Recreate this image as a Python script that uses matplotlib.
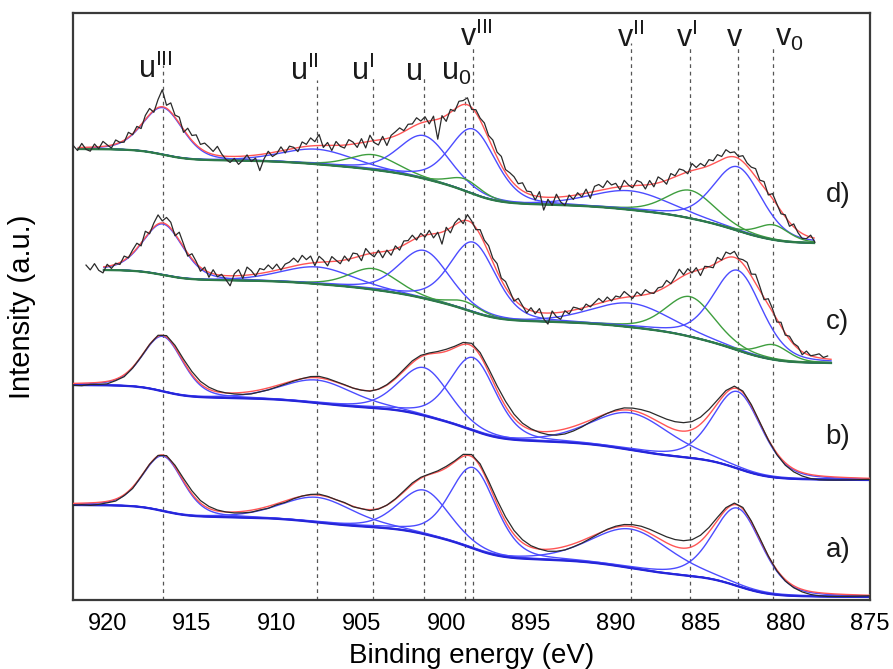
import math
import matplotlib.pyplot as plt
import numpy as np

plt.rcParams["font.family"] = ["Liberation Sans", "DejaVu Sans"]
plt.rcParams["mathtext.fontset"] = "custom"
plt.rcParams["mathtext.rm"] = "Liberation Sans"

# Ce 3d components: labels, binding energy (eV), FWHM (eV), Ce3+ flag
peak_labels = [r"u$^{\rm III}$", r"u$^{\rm II}$", r"u$^{\rm I}$", "u", r"u$_{\rm 0}$",
               r"v$^{\rm III}$", r"v$^{\rm II}$", r"v$^{\rm I}$", "v", r"v$_{\rm 0}$"]
peak_pos = [916.7, 907.6, 904.3, 901.3, 898.9, 898.4, 889.1, 885.6, 882.8, 880.7]
peak_fwhm = [2.8, 5.0, 3.3, 3.5, 2.2, 3.2, 5.5, 3.4, 3.4, 2.2]
ce3 = [0, 0, 1, 0, 1, 0, 0, 1, 0, 1]

# label anchor (left edge, baseline) and top of the dashed guide lines
label_x = [918.2, 909.2, 905.6, 902.4, 900.3, 899.2, 889.9, 886.45, 883.45, 880.6]
label_y = [522, 520, 520, 520, 520, 554, 553, 553, 554, 554]
line_top = [535, 520, 525, 525, 503, 553, 557, 553, 552, 553]

# component heights for each spectrum (0 = not used)
height_a = [55, 25, 0, 44, 0, 81, 39, 0, 78, 0]
height_b = [55, 23, 0, 48, 0, 73, 37, 0, 77, 0]
height_c = [51, 17, 21, 48, 8, 70, 24, 40, 80, 15]
height_d = [47, 15, 15, 43, 12, 65, 19, 28, 64, 15]

# Shirley background end levels (high BE, low BE) and fit range
bg_a, fit_a = (95, 3), (922.0, 875.0)
bg_b, fit_b = (215, 120), (922.0, 875.0)
bg_c, fit_c = (330, 237), (920.2, 877.3)
bg_d, fit_d = (451, 357), (921.7, 878.3)

# raw data = fit envelope + residual; (start BE, step)
grid_a = (922.0, 0.5)
grid_b = (922.0, 0.5)
grid_c = (921.25, 0.25)
grid_d = (922.0, 0.25)

res_a = [-2, -1.5, -2.5, -2, -1.5, -2, -1, -1.5, -0.5,
         0, 0.5, 1, 1.5, 2.5, 3, 2.5, 2,
         1, 0, -1, -1.5, -2, -1.5, -2, -1, -1.5, -0.5,
         0, 0.5, 1, 0.5, 0, 0.5, -0.5, 0, -1, -0.5, 0, 0.5,
         1, 1.5, 1, 0.5, 1, 1.5, 1, 2,
         2, 2.5, 3, 4, 4.5, 4, 3, 1.5,
         0, -2, -3, -3.5, -3, -2.5, -1.5, -0.5,
         0.5, 1, 1.5, 2,
         3, 4, 5, 6, 7, 7.5, 7, 6, 4.5, 3,
         2, 1.5, 1.5, 1, 1, 0, -1, -1.5,
         -2, -2.5, -3, -3, -3, -2.5, -2, -1.5, -1, -0.5]
res_b = [-2, -2.5, -1.5, -2, -2.5, -1.5, -2, -1, -0.5,
         0, 1, 1.5, 2, 2.5, 3, 2.5, 2,
         1, 0, -1, -2, -2.5, -2, -2, -1.5, -1, -0.5,
         0, 1, 1.5, 1, 0.5, 0.5, 0, 0, -0.5, 0, 0.5, 1,
         1.5, 2, 1.5, 1, 1.5, 2, 1.5, 2,
         2.5, 3, 3.5, 4.5, 5, 4, 2.5, 1,
         -1, -3, -4.5, -5, -4.5, -3.5, -2, -1,
         0, 1, 2, 2.5,
         3.5, 5, 6, 7, 8, 8.5, 8, 7, 5.5, 3.5,
         2.5, 2, 1.5, 1, 0.5, -0.5, -1.5, -2.5,
         -3, -3.5, -4, -4, -3.5, -3, -2.5, -2, -1.5, -1]
res_c = [3, -2, 4, -3, -6, 2, -3, 1, -2, 4, -1, 3, 5, -3, 6, -2,
         4, 9, 2, 7, 6, -2, 8, 3, -3, 5, 2, -4, 3, -5, 4, -2,
         1, -4, -10, 2, 6, -3, 8, 4, -2, 5, 3, 7, 2, 6, -1, 4,
         5, 8, 3, 9, 4, 7, -3, 6, 2, -4, 5, 1, -3, 4, -2, 5,
         3, -5, 6, 0, -4, 2, -6, 1, -5, 3, -3, 4, 2, 5, -2, 3,
         -2, 4, -4, 1, -12, 3, -5, 2, 4, -3, 6, 2, -2, 5, 3, 7,
         4, 8, 2, 6, 3, -2, 5, 1, -4, 3, -2, 4, -6, -11, 2, -4,
         -7, 1, -3, 3, 1, -2, 3, -1, 2, 5, 0, 4, -1, 3, 1, 6,
         2, -2, 4, 0, 5, 1, -1, 3, 2, 6, 0, 4, 9, 1, 5, -1,
         3, -6, 2, 0, -3, 5, 0, 6, 3, 6, 1, 4, 7, 2, 9, 4,
         -2, 6, 3, -3, 4, -2, 3, 1, 2, -3, 3, 0, 2, 4, 1, 3]
res_d = [2, -3, 4, -2, -4, 3, -2, 5, 1, -3, 4, 0, -2, 5, -1, 3,
         -4, 4, 6, -2, 8, 17, 3, 9, 2, 6, -3, 7, 5, 10, 4, 8,
         6, 3, 9, 2, -3, -6, -2, -8, -4, 1, -6, -3, -16, -5, 2, -4,
         -2, 4, -3, 3, 1, -4, 5, 2, 8, 4, 11, -2, 3, -5, 4, -1,
         -3, 5, 2, -4, 4, -6, 6, -2, -5, 3, -7, 2, 4, 6, 1, 5,
         3, 7, 2, 5, -3, 4, -20, 2, -6, 3, -2, 5, 4, 7, -2, 3,
         2, 6, 3, 8, 5, 9, 3, 6, 7, 4, 8, 2, 3, -4, 5, -13,
         -2, -8, 3, -5, -9, 1, -4, 2, -3, 4, -6, 5, 6, 2, 8, 3,
         4, -3, 6, 1, -2, 5, 3, -4, 4, -3, 6, 2, -4, 5, 1, 6,
         3, -2, 7, 2, 5, 1, 6, 3, 7, 3, 8, 4, 5, 2, 6, 3,
         4, 8, 2, 6, -2, 5, 1, -3, 2, -4, 3, -2, -5, -3, 2, -4]

tags = ["a)", "b)", "c)", "d)"]
tag_y = [50, 163, 278, 405]

GL_MIX = 0.3  # Lorentzian fraction of the line shape
erf = np.vectorize(math.erf)


def peak(x, c, h, w):
    t = (x - c) / w
    return h * ((1 - GL_MIX) * np.exp(-4 * np.log(2) * t ** 2) + GL_MIX / (1 + 4 * t ** 2))


def peak_cum(x, c, h, w):
    a = 4 * np.log(2) / w ** 2
    g = np.sqrt(np.pi / a) / 2 * (1 + erf(np.sqrt(a) * (x - c)))
    lor = w / 2 * (np.arctan(2 * (x - c) / w) + np.pi / 2)
    return h * ((1 - GL_MIX) * g + GL_MIX * lor)


def shirley(x, heights, ends, fit):
    hi, lo = fit
    xc = np.clip(x, lo, hi)
    tot = lambda e: sum(peak_cum(e, c, h, w) for c, h, w in zip(peak_pos, heights, peak_fwhm) if h > 0)
    frac = (tot(xc) - tot(lo)) / (tot(hi) - tot(lo))
    return ends[1] + (ends[0] - ends[1]) * frac


def envelope(x, heights, ends, fit):
    y = shirley(x, heights, ends, fit)
    for c, h, w in zip(peak_pos, heights, peak_fwhm):
        if h > 0:
            y = y + peak(x, c, h, w)
    return y


fig = plt.figure(figsize=(8.93, 6.69), dpi=100)
ax = fig.add_axes([73.3 / 893, 69 / 669, 796.7 / 893, 587 / 669])

ax.vlines(peak_pos, 0, line_top, colors="#555555", linestyles=(0, (3, 3)), lw=0.9, zorder=1)
for lab, lx, ly in zip(peak_labels, label_x, label_y):
    ax.text(lx, ly, lab, fontsize=22, ha="left", va="baseline", color="#1a1a1a")

spectra = [
    (height_a, bg_a, fit_a, grid_a, res_a),
    (height_b, bg_b, fit_b, grid_b, res_b),
    (height_c, bg_c, fit_c, grid_c, res_c),
    (height_d, bg_d, fit_d, grid_d, res_d),
]

for k, (heights, ends, fit, grid, res) in enumerate(spectra):
    noisy = k >= 2
    x = np.linspace(fit[0], fit[1], 600)
    bg = shirley(x, heights, ends, fit)
    for c, h, w, f in zip(peak_pos, heights, peak_fwhm, ce3):
        if h > 0:
            col = "#3e9e3e" if f else "#4c4cff"
            ax.plot(x, bg + peak(x, c, h, w), color=col, lw=1.0, zorder=2)
    ax.plot(x, bg, color="#2e7a4a" if noisy else "#2626d8", lw=1.6, zorder=2)
    ax.plot(x, envelope(x, heights, ends, fit), color="#ff5555", lw=1.0, zorder=3)

    xd = grid[0] - grid[1] * np.arange(len(res))
    yd = envelope(xd, heights, ends, fit) + np.array(res)
    ax.plot(xd, yd, color="#2a2a2a", lw=0.9, zorder=4)

for t, ty in zip(tags, tag_y):
    ax.text(876.9, ty, t, fontsize=20, ha="center", va="center", color="#1a1a1a")

ax.set_xlim(922, 875)
ax.set_ylim(0, 587)
ax.set_xticks(np.arange(920, 874, -5))
ax.set_yticks([])
ax.tick_params(axis="x", length=0, labelsize=17, pad=9)
ax.set_xlabel("Binding energy (eV)", fontsize=20, labelpad=6)
ax.set_ylabel("Intensity (a.u.)", fontsize=21, labelpad=27)
for s in ax.spines.values():
    s.set_linewidth(1.6)
    s.set_color("#3a3a3a")

fig.savefig("out.png", dpi=100)
